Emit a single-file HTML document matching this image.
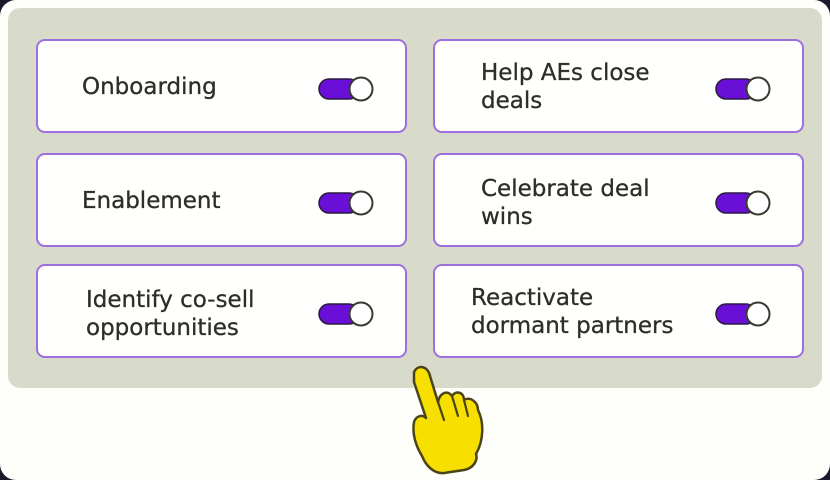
<!DOCTYPE html>
<html><head><style>
html,body{margin:0;padding:0;width:830px;height:480px;overflow:hidden;background:#1a1a2a;}
#page{position:absolute;left:0;top:0;width:830px;height:480px;background:#fefefb;border-radius:16px;}
#panel{position:absolute;left:8px;top:8px;width:814px;height:380px;background:#d9dbca;border-radius:12px;}
.card{position:absolute;width:367px;height:90px;background:#fffffd;border:2px solid #9d6fde;border-radius:9px;box-sizing:content-box;}
.t{position:absolute;font-family:"DejaVu Sans","Liberation Sans",sans-serif;font-size:23px;line-height:28px;color:#2e2e26;-webkit-text-stroke:0.3px #2e2e26;white-space:nowrap;}
.tg{position:absolute;left:280px;top:35px;width:56px;height:26px;}
</style></head><body>
<div id="page">
<div id="panel"></div>
</div>
<div class="card" style="left:36px;top:39px"><div class="t" style="left:44px;top:32px">Onboarding</div>
<svg class="tg" viewBox="0 0 56 26"><rect x="1" y="3" width="40" height="20" rx="10" fill="#6a0fd8" stroke="#2a1a40" stroke-width="1.5"/><circle cx="43" cy="13" r="11.5" fill="#fff" stroke="#3a3a30" stroke-width="2"/></svg></div>
<div class="card" style="left:433px;top:39px"><div class="t" style="left:46px;top:18px">Help AEs close<br>deals</div>
<svg class="tg" viewBox="0 0 56 26"><rect x="1" y="3" width="40" height="20" rx="10" fill="#6a0fd8" stroke="#2a1a40" stroke-width="1.5"/><circle cx="43" cy="13" r="11.5" fill="#fff" stroke="#3a3a30" stroke-width="2"/></svg></div>
<div class="card" style="left:36px;top:153px"><div class="t" style="left:44px;top:32px">Enablement</div>
<svg class="tg" viewBox="0 0 56 26"><rect x="1" y="3" width="40" height="20" rx="10" fill="#6a0fd8" stroke="#2a1a40" stroke-width="1.5"/><circle cx="43" cy="13" r="11.5" fill="#fff" stroke="#3a3a30" stroke-width="2"/></svg></div>
<div class="card" style="left:433px;top:153px"><div class="t" style="left:46px;top:20px">Celebrate deal<br>wins</div>
<svg class="tg" viewBox="0 0 56 26"><rect x="1" y="3" width="40" height="20" rx="10" fill="#6a0fd8" stroke="#2a1a40" stroke-width="1.5"/><circle cx="43" cy="13" r="11.5" fill="#fff" stroke="#3a3a30" stroke-width="2"/></svg></div>
<div class="card" style="left:36px;top:264px"><div class="t" style="left:48px;top:20px">Identify co-sell<br>opportunities</div>
<svg class="tg" viewBox="0 0 56 26"><rect x="1" y="3" width="40" height="20" rx="10" fill="#6a0fd8" stroke="#2a1a40" stroke-width="1.5"/><circle cx="43" cy="13" r="11.5" fill="#fff" stroke="#3a3a30" stroke-width="2"/></svg></div>
<div class="card" style="left:433px;top:264px"><div class="t" style="left:36px;top:18px">Reactivate<br>dormant partners</div>
<svg class="tg" viewBox="0 0 56 26"><rect x="1" y="3" width="40" height="20" rx="10" fill="#6a0fd8" stroke="#2a1a40" stroke-width="1.5"/><circle cx="43" cy="13" r="11.5" fill="#fff" stroke="#3a3a30" stroke-width="2"/></svg></div>
<svg style="position:absolute;left:400px;top:360px" width="100" height="120" viewBox="0 0 100 120">
<path d="M14 12 C18 4 28 6 30 16 L38 42 C40 32 48 30 52 36 C56 30 64 32 64 40 C70 36 78 42 78 50 C84 62 84 80 76 94 C78 100 74 108 64 110 L44 113 C34 114 26 106 22 96 C16 86 12 74 14 62 C16 56 22 54 26 58 L14 22 Z" fill="#f7e000" stroke="#4a4418" stroke-width="2.5" stroke-linejoin="round"/>
<path d="M38 42 L44 60 M52 36 L58 56 M64 40 L68 56" fill="none" stroke="#4a4418" stroke-width="2.2" stroke-linecap="round"/>
</svg>
</body></html>
